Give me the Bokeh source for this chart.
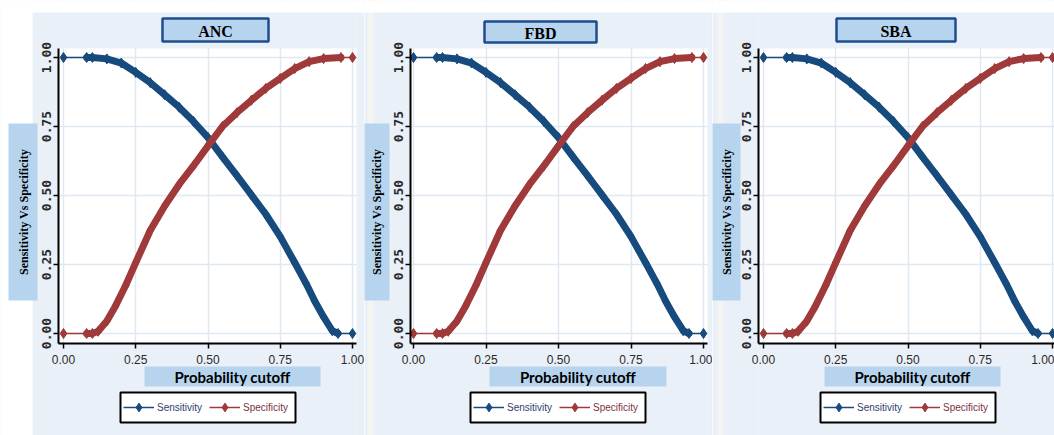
import math
from bokeh.plotting import figure
from bokeh.layouts import row
from bokeh.models import (Range1d, FixedTicker, BoxAnnotation, Label, Legend, LegendItem,
                          LinearAxis, Grid)
from bokeh.embed import file_html
from bokeh.resources import INLINE

# ---------------- data ----------------
panel_titles = ["ANC", "FBD", "SBA"]
tick_values = [0.0, 0.25, 0.5, 0.75, 1.0]
tick_labels = ["0.00", "0.25", "0.50", "0.75", "1.00"]

cutoff_sens = [0.00, 0.08, 0.10, 0.15, 0.20, 0.25, 0.30, 0.35, 0.40, 0.45, 0.50,
               0.55, 0.60, 0.65, 0.70, 0.75, 0.80, 0.84, 0.87, 0.90, 0.93, 0.95, 1.00]
sensitivity = [1.000, 1.000, 1.000, 0.995, 0.980, 0.946, 0.909, 0.865, 0.820, 0.768, 0.710,
               0.640, 0.572, 0.502, 0.432, 0.351, 0.257, 0.180, 0.116, 0.060, 0.010, 0.000, 0.000]

cutoff_spec = [0.00, 0.08, 0.10, 0.12, 0.15, 0.18, 0.215, 0.25, 0.30, 0.35, 0.40, 0.45,
               0.50, 0.55, 0.60, 0.65, 0.70, 0.75, 0.80, 0.85, 0.90, 0.96, 1.00]
specificity = [0.000, 0.000, 0.000, 0.008, 0.045, 0.100, 0.174, 0.257, 0.373, 0.462, 0.540, 0.608,
               0.680, 0.750, 0.800, 0.845, 0.888, 0.924, 0.960, 0.985, 0.996, 1.000, 1.000]

x_label = "Probability cutoff"
y_label = "Sensitivity Vs Specificity"
legend_labels = ["Sensitivity", "Specificity"]

# ---------------- styles / layout (pixels) ----------------
BLUE = "#174b7e"
RED = "#a03a3a"
PANEL_BG = "#eaf0f7"
BOX_FILL = "#b6d4ee"
STRIP = "#f4f4f2"
GRID = "#e0e9f2"
LEGEND_TEXT = ["#2d3f6b", "#7a3340"]

FIG_X = [(0, 364), (364, 712), (712, 1054)]
FIG_Y0, FIG_Y1 = 0, 435
FRAME_X = [(58, 356), (410, 707), (758, 1054)]
DATA_X = [(63, 352), (413, 703), (763, 1052)]
FRAME_TOP, FRAME_BOTTOM = 48, 343
Y1_PX, Y0_PX = 57, 333
TITLE_BOX = [(162, 268, 18, 41), (484, 596, 21, 42), (836, 955, 18, 41)]
YLAB_BOX = [(8, 37), (361, 389), (711, 740)]
YLAB_Y = (123, 300)
XLAB_BOX = [(144, 320), (489, 666), (824, 1000)]
XLAB_Y = (366, 386)
LEGEND_BOX = [(120, 295), (470, 645), (820, 995)]
LEGEND_Y = (392, 422)
EXTRA = [[("white", 0, 32)], [(STRIP, 367, 373)], [(STRIP, 717, 723)]]


def make_panel(i):
    fx0, fx1 = FIG_X[i]
    fl, fr = FRAME_X[i]
    d0, d1 = DATA_X[i]
    ppu = d1 - d0
    ppy = Y0_PX - Y1_PX

    def dx(xp):
        return (xp - d0) / ppu

    def dy(yp):
        return (Y0_PX - yp) / ppy

    p = figure(width=fx1 - fx0, height=FIG_Y1 - FIG_Y0,
               x_range=Range1d(dx(fx0), dx(fx1)), y_range=Range1d(dy(FIG_Y1), dy(FIG_Y0)),
               x_axis_location=None, y_axis_location=None,
               output_backend="svg", toolbar_location=None,
               min_border_left=0, min_border_right=0, min_border_top=0, min_border_bottom=0)
    p.background_fill_color = "white"
    p.border_fill_color = PANEL_BG
    p.outline_line_color = None
    p.center = [r for r in p.center if not isinstance(r, Grid)]

    for dim in (0, 1):
        p.add_layout(Grid(dimension=dim, ticker=FixedTicker(ticks=tick_values),
                          grid_line_color=GRID, grid_line_width=1.5), "center")

    def sx(xp):
        return xp - fx0

    def sy(yp):
        return FIG_Y1 - yp

    def box(l, r, t, b, color, level="underlay", line_color=None, line_width=1):
        if r <= l or b <= t:
            return
        p.add_layout(BoxAnnotation(left=sx(l), right=sx(r), top=sy(t), bottom=sy(b),
                                   left_units="screen", right_units="screen",
                                   top_units="screen", bottom_units="screen",
                                   fill_color=color, fill_alpha=1, line_color=line_color,
                                   line_alpha=1, line_width=line_width, level=level))

    # panel background around the white plot area
    box(fx0, fl, FIG_Y0, FIG_Y1, PANEL_BG)
    box(fr, fx1, FIG_Y0, FIG_Y1, PANEL_BG)
    box(fl, fr, FIG_Y0, FRAME_TOP, PANEL_BG)
    box(fl, fr, FRAME_BOTTOM, FIG_Y1, PANEL_BG)
    for col, a, b in EXTRA[i]:
        box(a, b, FIG_Y0, FIG_Y1, col)
    box(fx0, fx1, FIG_Y0, 12, "white")

    # axes (fixed at the plot-area edges)
    xaxis = LinearAxis(fixed_location=dy(FRAME_BOTTOM), bounds=(dx(fl), dx(fr)))
    yaxis = LinearAxis(fixed_location=dx(fl), bounds=(dy(FRAME_BOTTOM), dy(FRAME_TOP)))
    for ax in (xaxis, yaxis):
        ax.ticker = FixedTicker(ticks=tick_values)
        ax.major_label_overrides = dict(zip(tick_values, tick_labels))
        ax.axis_line_color = "black"
        ax.axis_line_width = 2
        ax.major_tick_line_color = "black"
        ax.major_tick_line_width = 1.5
        ax.major_tick_out = 5
        ax.major_tick_in = 0
        ax.minor_tick_line_color = None
        ax.major_label_text_color = "#2a2a2a"
    xaxis.major_label_text_font = "Liberation Sans"
    xaxis.major_label_text_font_size = "12px"
    xaxis.major_label_standoff = 6
    yaxis.major_label_orientation = "vertical"
    yaxis.major_label_text_font = "DejaVu Sans Mono"
    yaxis.major_label_text_font_style = "bold"
    yaxis.major_label_text_font_size = "13px"
    yaxis.major_label_standoff = 3
    p.add_layout(xaxis, "below")
    p.add_layout(yaxis, "left")

    # curves
    def dense(xs, ys, lo, hi):
        pts = [(x, y) for x, y in zip(xs, ys) if lo <= x <= hi]
        return [a for a, _ in pts], [b for _, b in pts]

    series = [(cutoff_sens, sensitivity, BLUE, 0.95), (cutoff_spec, specificity, RED, 0.96)]
    legend_items = []
    for (xs, ys, col, hi), lab in zip(series, legend_labels):
        thin = p.line(xs, ys, line_color=col, line_width=1.5)
        ddx, ddy = dense(xs, ys, 0.08, hi)
        p.line(ddx, ddy, line_color=col, line_width=7, line_join="round", line_cap="round")
        mk = p.scatter(xs, ys, marker="diamond", size=10, fill_color=col, line_color=col)
        legend_items.append(LegendItem(label=lab, renderers=[thin, mk]))

    # title box
    a, b, t, bt = TITLE_BOX[i]
    box(a, b, t, bt, BOX_FILL, level="annotation", line_color="#1d4d8f", line_width=2.5)
    p.add_layout(Label(x=sx((a + b) / 2), y=sy((t + bt) / 2 + 1), x_units="screen", y_units="screen",
                       text=panel_titles[i], text_font="Liberation Serif", text_font_style="bold",
                       text_font_size="16px", text_align="center", text_baseline="middle",
                       text_color="black"))

    # y label box
    a, b = YLAB_BOX[i]
    box(a, b, YLAB_Y[0], YLAB_Y[1], BOX_FILL, level="annotation")
    p.add_layout(Label(x=sx((a + b) / 2 + 1), y=sy(sum(YLAB_Y) / 2), x_units="screen", y_units="screen",
                       text=y_label, angle=math.pi / 2, text_font="Liberation Serif",
                       text_font_style="bold", text_font_size="12px", text_align="center",
                       text_baseline="middle", text_color="black"))

    # x label box
    a, b = XLAB_BOX[i]
    box(a, b, XLAB_Y[0], XLAB_Y[1], BOX_FILL, level="annotation")
    p.add_layout(Label(x=sx((a + b) / 2), y=sy(sum(XLAB_Y) / 2), x_units="screen", y_units="screen",
                       text=x_label, text_font="Lato", text_font_style="bold",
                       text_font_size="15px", text_align="center", text_baseline="middle",
                       text_color="black"))

    # legend: framed box with two single-entry legends (each with its own text colour)
    a, b = LEGEND_BOX[i]
    box(a, b, LEGEND_Y[0], LEGEND_Y[1], "white", level="annotation",
        line_color="black", line_width=2)
    offsets = [3, 89]
    for item, off, tcol in zip(legend_items, offsets, LEGEND_TEXT):
        leg = Legend(items=[item], location=(sx(a + off), sy(LEGEND_Y[1] - 4)),
                     orientation="horizontal", border_line_color=None,
                     background_fill_alpha=0, padding=0, spacing=0,
                     glyph_width=31, glyph_height=22, label_height=22,
                     label_standoff=3, label_text_font="Liberation Sans",
                     label_text_font_size="10px", label_text_color=tcol, margin=0)
        p.add_layout(leg, "center")
    return p


figs = [make_panel(i) for i in range(3)]
layout = row(*figs, spacing=0)

open("out.html", "w").write(file_html(layout, INLINE))
